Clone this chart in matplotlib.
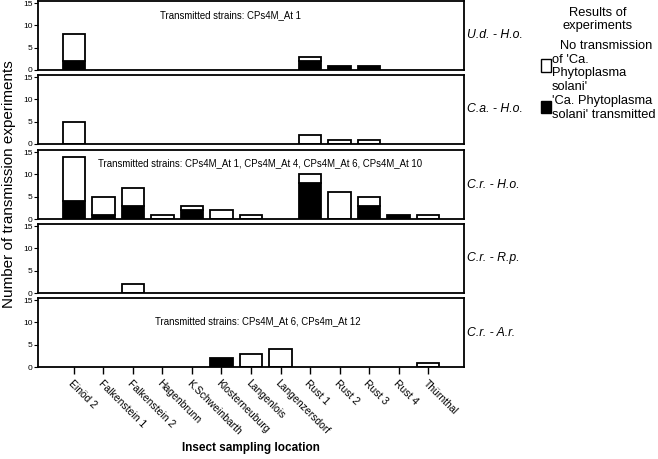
import matplotlib
matplotlib.use("Agg")
import matplotlib.pyplot as plt
from matplotlib.patches import Rectangle
import numpy as np

plt.rcParams['font.family'] = ['Liberation Sans', 'DejaVu Sans']

locations = ["Einöd 2", "Falkenstein 1", "Falkenstein 2", "Hagenbrunn", "K.Schweinbarth",
             "Klosterneuburg", "Langenlois", "Langenzersdorf", "Rust 1", "Rust 2",
             "Rust 3", "Rust 4", "Thürnthal"]

panel_labels = ["U.d. - H.o.", "C.a. - H.o.", "C.r. - H.o.", "C.r. - R.p.", "C.r. - A.r."]

# total experiments per location, per panel
total_ud_ho = [8, 0, 0, 0, 0, 0, 0, 0, 3, 1, 1, 0, 0]
total_ca_ho = [5, 0, 0, 0, 0, 0, 0, 0, 2, 1, 1, 0, 0]
total_cr_ho = [14, 5, 7, 1, 3, 2, 1, 0, 10, 6, 5, 1, 1]
total_cr_rp = [0, 0, 2, 0, 0, 0, 0, 0, 0, 0, 0, 0, 0]
total_cr_ar = [0, 0, 0, 0, 0, 2, 3, 4, 0, 0, 0, 0, 1]

# experiments with transmission
trans_ud_ho = [2, 0, 0, 0, 0, 0, 0, 0, 2, 1, 1, 0, 0]
trans_ca_ho = [0, 0, 0, 0, 0, 0, 0, 0, 0, 0, 0, 0, 0]
trans_cr_ho = [4, 1, 3, 0, 2, 0, 0, 0, 8, 0, 3, 1, 0]
trans_cr_rp = [0, 0, 0, 0, 0, 0, 0, 0, 0, 0, 0, 0, 0]
trans_cr_ar = [0, 0, 0, 0, 0, 2, 0, 0, 0, 0, 0, 0, 0]

strain_notes = ["Transmitted strains: CPs4M_At 1", "",
                "Transmitted strains: CPs4M_At 1, CPs4M_At 4, CPs4M_At 6, CPs4M_At 10", "",
                "Transmitted strains: CPs4M_At 6, CPs4m_At 12"]

totals = [total_ud_ho, total_ca_ho, total_cr_ho, total_cr_rp, total_cr_ar]
transmitted = [trans_ud_ho, trans_ca_ho, trans_cr_ho, trans_cr_rp, trans_cr_ar]

W, H = 658, 459
fig = plt.figure(figsize=(W / 100, H / 100), dpi=100)

tops = [1, 75, 150, 224, 298]
ph = 69
left, width = 38, 426
x = np.arange(len(locations))
note_pos = [(5.29, 12.4), None, (6.3, 12.6), None, (6.22, 10.3)]

for i in range(5):
    ax = fig.add_axes([left / W, 1 - (tops[i] + ph) / H, width / W, ph / H])
    tot = np.array(totals[i])
    tr = np.array(transmitted[i])
    no = tot - tr
    m1 = tr > 0
    m2 = no > 0
    ax.bar(x[m1], tr[m1], width=0.75, color="black", edgecolor="black", linewidth=1.3)
    ax.bar(x[m2], no[m2], bottom=tr[m2], width=0.75, color="white", edgecolor="black", linewidth=1.3)
    ax.set_xlim(-1.22, 13.22)
    ax.set_ylim(0, 15.5)
    ax.set_yticks([0, 5, 10, 15])
    ax.tick_params(axis="y", labelsize=6, length=3, width=0.8, pad=1)
    for s in ax.spines.values():
        s.set_linewidth(1.3)
    if strain_notes[i]:
        ax.text(note_pos[i][0], note_pos[i][1], strain_notes[i], ha="center", va="center",
                fontsize=6.9)
    ax.text(1.008, 0.5, panel_labels[i], transform=ax.transAxes, ha="left", va="center",
            fontsize=8.8, style="italic")
    if i < 4:
        ax.set_xticks([])
    else:
        ax.set_xticks(x)
        ax.set_xticklabels(locations, rotation=-45, ha="left", va="top",
                           rotation_mode="anchor", fontsize=7.5)
        ax.tick_params(axis="x", length=5, width=1, pad=3)

fig.text(9 / W, 1 - 184 / H, "Number of transmission experiments", rotation=90,
         ha="center", va="center", fontsize=11)
fig.text(251 / W, 1 - 448 / H, "Insect sampling location", ha="center", va="center",
         fontsize=8.5, fontweight="bold")

# legend drawn by hand to match the wrapped layout
fs = 9.3
legend_lines = [("Results of", 598, 13, "center"), ("experiments", 598, 26, "center"),
                ("No transmission", 560, 46, "left"), ("of 'Ca.", 552, 60, "left"),
                ("Phytoplasma", 552, 73, "left"), ("solani'", 552, 87, "left"),
                ("'Ca. Phytoplasma", 552, 101, "left"), ("solani' transmitted", 552, 115, "left")]
for txt, px, py, ha in legend_lines:
    fig.text(px / W, 1 - py / H, txt, ha=ha, va="center", fontsize=fs)
fig.add_artist(Rectangle((541 / W, 1 - 72 / H), 10 / W, 13 / H, transform=fig.transFigure,
                         facecolor="white", edgecolor="black", linewidth=1))
fig.add_artist(Rectangle((541 / W, 1 - 113 / H), 10 / W, 12 / H, transform=fig.transFigure,
                         facecolor="black", edgecolor="black", linewidth=1))

fig.savefig("out.png", dpi=100)
